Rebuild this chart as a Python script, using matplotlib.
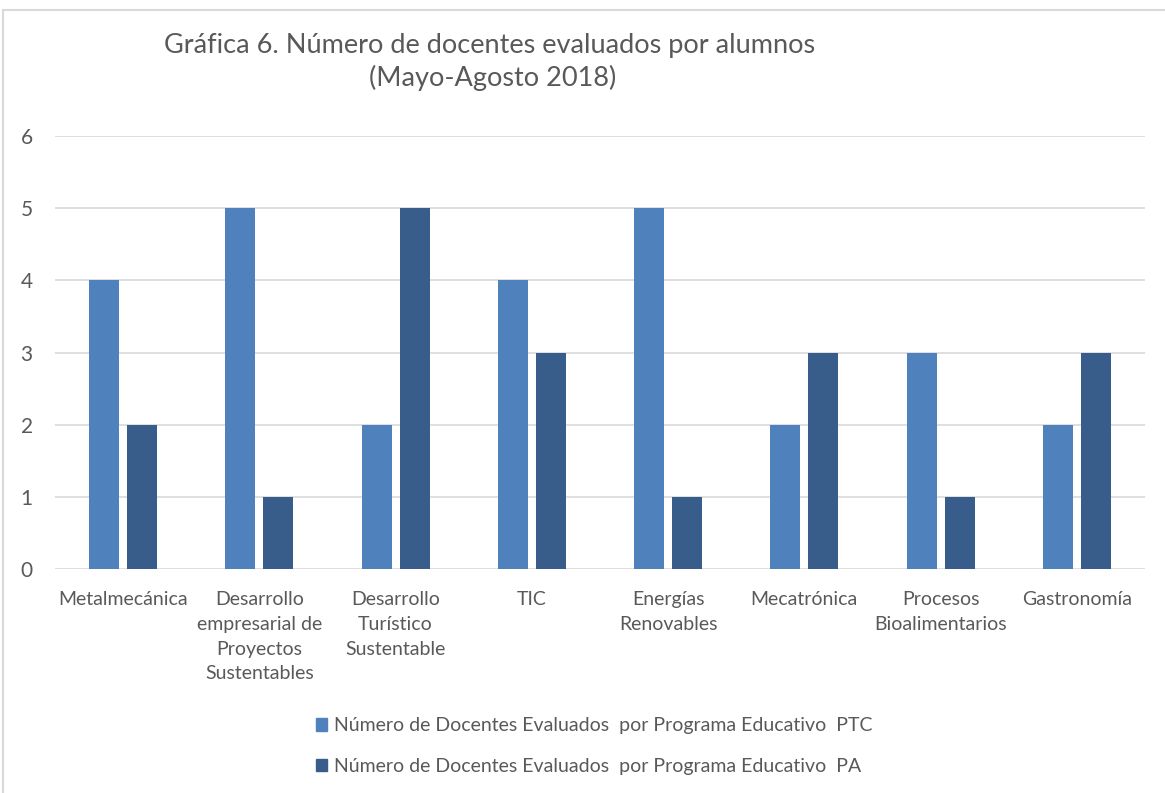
import matplotlib
matplotlib.use('Agg')
import matplotlib.pyplot as plt
import matplotlib.patches as mpatches
import numpy as np

# ── DATA ─────────────────────────────────────────────────────────────────────
categorias = ['Metalmecánica',
              'Desarrollo\nempresarial de\nProyectos\nSustentables',
              'Desarrollo\nTurístico\nSustentable',
              'TIC',
              'Energías\nRenovables',
              'Mecatrónica',
              'Procesos\nBioalimentarios',
              'Gastronomía']
ptc = [4, 5, 2, 4, 5, 2, 3, 2]
pa = [2, 1, 5, 3, 1, 3, 1, 3]
serie_ptc = 'Número de Docentes Evaluados  por Programa Educativo  PTC'
serie_pa = 'Número de Docentes Evaluados  por Programa Educativo  PA'

# ── STYLE ────────────────────────────────────────────────────────────────────
C_PTC = '#4F81BD'
C_PA = '#385D8A'
TXT = '#595959'
GRID = '#D9D9D9'

plt.rcParams['font.family'] = ['Lato', 'DejaVu Sans']

fig = plt.figure(figsize=(11.65, 7.93), dpi=100)
ax = fig.add_axes([55 / 1165, 1 - 569 / 793, 1090 / 1165, 433 / 793])

x = np.arange(len(categorias))
w = 0.22
off = 0.14
ax.bar(x - off, ptc, width=w, color=C_PTC, zorder=3)
ax.bar(x + off, pa, width=w, color=C_PA, zorder=3)

ax.set_xlim(-0.5, len(categorias) - 0.5)
ax.set_ylim(0, 6)
ax.set_yticks(range(7))
ax.grid(True, axis='y', color=GRID, linewidth=1.2, zorder=0)
for s in ax.spines.values():
    s.set_visible(False)
ax.tick_params(axis='both', length=0, colors=TXT)
ax.tick_params(axis='y', pad=16, labelsize=15)
ax.tick_params(axis='x', pad=16, labelsize=14)
ax.set_xticks(x)
ax.set_xticklabels(categorias, linespacing=1.55)

# ── TITLE ────────────────────────────────────────────────────────────────────
fig.text(490 / 1165, 1 - 46 / 793, 'Gráfica 6. Número de docentes evaluados por alumnos',
         ha='center', va='center', fontsize=19.5, color=TXT)
fig.text(493 / 1165, 1 - 78 / 793, '(Mayo-Agosto 2018)',
         ha='center', va='center', fontsize=19.5, color=TXT)

# ── LEGEND ───────────────────────────────────────────────────────────────────
handles = [mpatches.Patch(color=C_PTC, label=serie_ptc),
           mpatches.Patch(color=C_PA, label=serie_pa)]
fig.legend(handles=handles, loc='center', bbox_to_anchor=(594 / 1165, 1 - 746 / 793),
           frameon=False, fontsize=14, labelcolor=TXT, handlelength=0.6,
           handleheight=0.6, handletextpad=0.35, labelspacing=1.2)

# frame
fig.add_artist(mpatches.Rectangle((3 / 1165, -0.1), 1.2, 1.1 - 10 / 793,
                                  transform=fig.transFigure, fill=False,
                                  edgecolor=GRID, linewidth=1.5))

fig.savefig('out.png', dpi=100, facecolor='white')
